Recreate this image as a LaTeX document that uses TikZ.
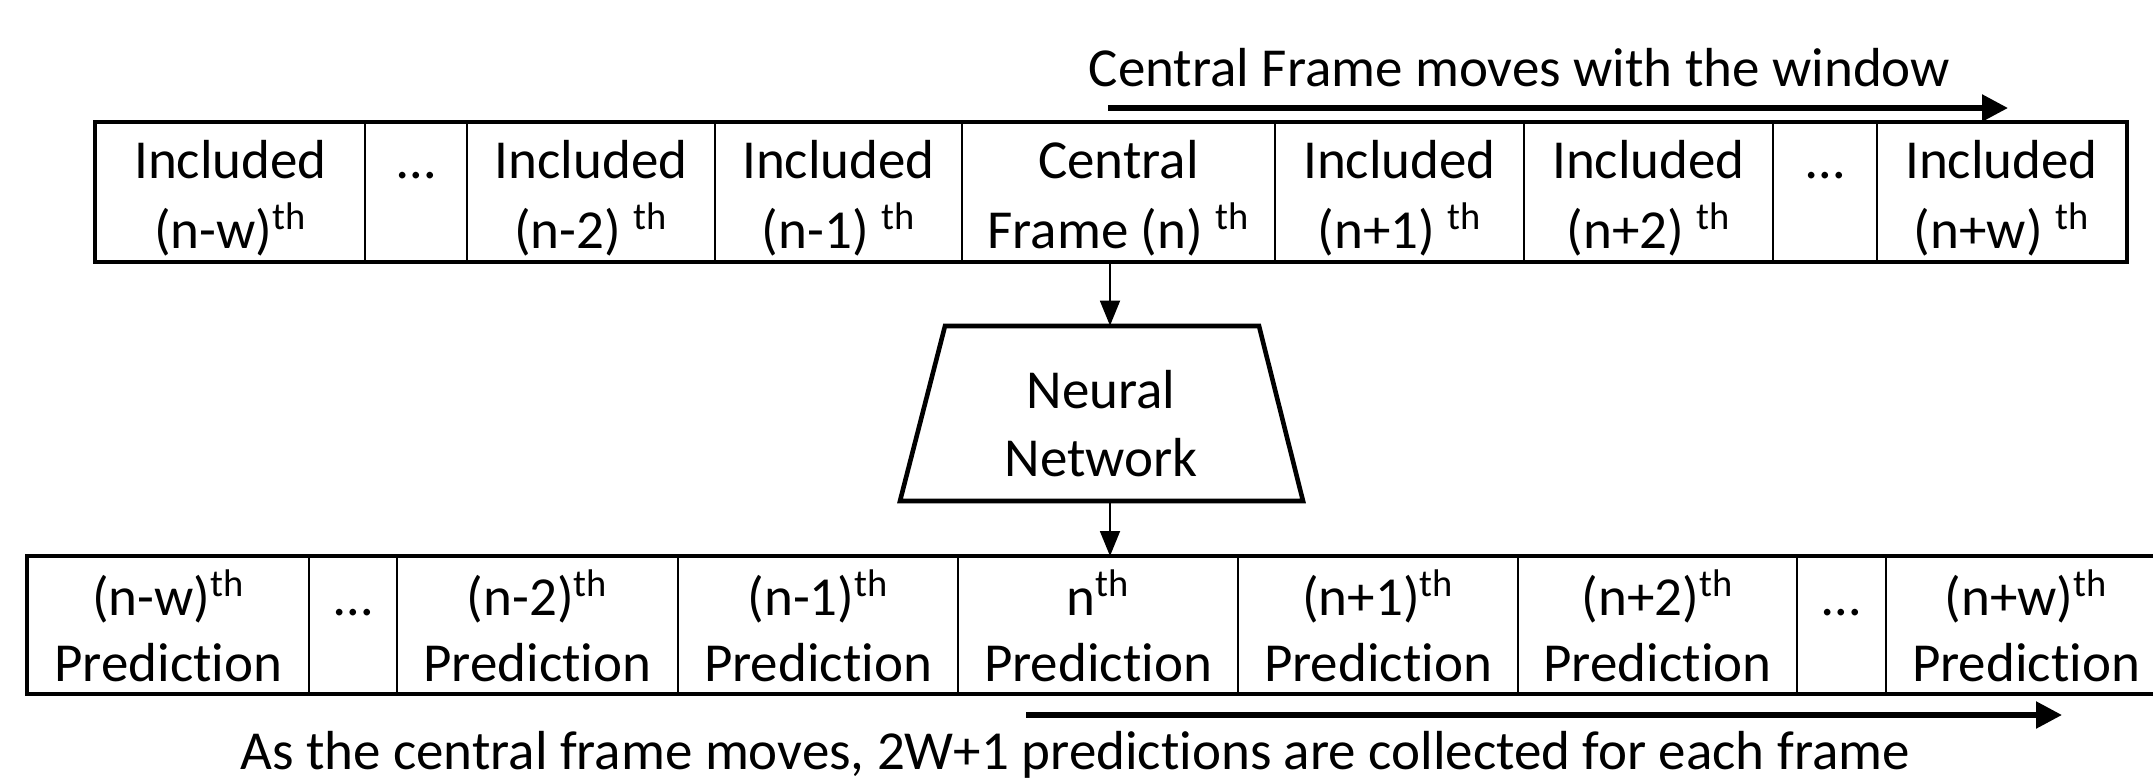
\documentclass[tikz,border=0pt]{standalone}
\usepackage{fontspec}
\setmainfont{Carlito}[Ligatures=NoCommon]
\usetikzlibrary{arrows.meta}
\begin{document}
\begin{tikzpicture}[x=0.5pt,y=-0.5pt,
  txt/.style={font=\fontsize{27.5}{33.5}\selectfont, inner sep=0pt},
  cell/.style={draw, line width=1pt, inner sep=0pt},
  toprow/.style={cell, minimum height=69pt},
  botrow/.style={cell, minimum height=68pt},
  outer/.style={draw, line width=1.7pt},
  thin/.style={line width=0.9pt, -{Triangle[length=12.5pt,width=10pt]}},
  thick/.style={line width=2.7pt, -{Triangle[length=13pt,width=13pt]}},
  nnbox/.style={draw, line width=2.3pt, line join=miter}]
\useasboundingbox (0,0) rectangle (2153,782);

% baselines of text lines
\coordinate (tl1) at (0,178);
\coordinate (tl2) at (0,248);
\coordinate (bl1) at (0,615);
\coordinate (bl2) at (0,681);

\newcommand{\tcell}[5]{%
  \node[toprow, minimum width=#3] (#1) at (#2,192) {};
  \node[txt, anchor=base] (#1a) at (#1.center |- tl1) {#4};
  \node[txt, anchor=base] (#1b) at (#1.center |- tl2) {#5};}
\newcommand{\bcell}[5]{%
  \node[botrow, minimum width=#3] (#1) at (#2,625) {};
  \node[txt, anchor=base] (#1a) at (#1.center |- bl1) {#4};
  \node[txt, anchor=base] (#1b) at (#1.center |- bl2) {#5};}

% top row
\tcell{T1}{230.5}{134.5pt}{Included}{(n-w)\textsuperscript{th}}
\tcell{T2}{416}{51pt}{…}{}
\tcell{T3}{591}{124pt}{Included}{(n-2) \textsuperscript{th}}
\tcell{T4}{838.5}{123.5pt}{Included}{(n-1) \textsuperscript{th}}
\tcell{T5}{1118.5}{156.5pt}{Central}{Frame (n) \textsuperscript{th}}
\tcell{T6}{1399.5}{124.5pt}{Included}{(n+1) \textsuperscript{th}}
\tcell{T7}{1648.5}{124.5pt}{Included}{(n+2) \textsuperscript{th}}
\tcell{T8}{1825}{52pt}{…}{}
\tcell{T9}{2001.5}{124.5pt}{Included}{(n+w) \textsuperscript{th}}
\draw[outer] (T1.north west) rectangle (T9.south east);

% title and arrow
\node[txt, anchor=base] (title) at (1519.5,86) {Central Frame moves with the window};
\coordinate (ta) at (1108,108);
\coordinate (tb) at (2008,108);
\draw[thick] (ta) -- (tb);

% neural network
\coordinate (nnTL) at (945,326);
\coordinate (nnTR) at (1259,326);
\coordinate (nnBR) at (1303,501);
\coordinate (nnBL) at (900,501);
\draw[nnbox] (nnTL) -- (nnTR) -- (nnBR) -- (nnBL) -- cycle;
\node[minimum height=87.5pt, minimum width=157pt, inner sep=0pt] (NN) at (1101,413.5) {};
\node[txt, anchor=base] (NNa) at (1101,408) {Neural};
\node[txt, anchor=base] (NNb) at (1101,476) {Network};

% bottom row
\bcell{B1}{168.5}{140.5pt}{(n-w)\textsuperscript{th}}{Prediction}
\bcell{B2}{353}{44pt}{…}{}
\bcell{B3}{537.5}{140.5pt}{(n-2)\textsuperscript{th}}{Prediction}
\bcell{B4}{818}{140pt}{(n-1)\textsuperscript{th}}{Prediction}
\bcell{B5}{1098}{140pt}{n\textsuperscript{th}}{Prediction}
\bcell{B6}{1378}{140pt}{(n+1)\textsuperscript{th}}{Prediction}
\bcell{B7}{1657.5}{139.5pt}{(n+2)\textsuperscript{th}}{Prediction}
\bcell{B8}{1841.5}{44.5pt}{…}{}
\bcell{B9}{2026}{140pt}{(n+w)\textsuperscript{th}}{Prediction}
\draw[outer] (B1.north west) rectangle (B9.south east);

% connectors
\draw[thin] ([xshift=-4.25pt]T5.south) -- ([xshift=-4.25pt]T5.south |- NN.north);
\draw[thin] ([xshift=4.5pt]NN.south) -- ([xshift=4.5pt]NN.south |- B5.north);

% bottom arrow and caption
\coordinate (ba) at (1026,715);
\coordinate (bb) at (2062,715);
\draw[thick] (ba) -- (bb);
\node[txt, anchor=base] (cap) at (1075,769) {As the central frame moves, 2W+1 predictions are collected for each frame};
\end{tikzpicture}
\end{document}
